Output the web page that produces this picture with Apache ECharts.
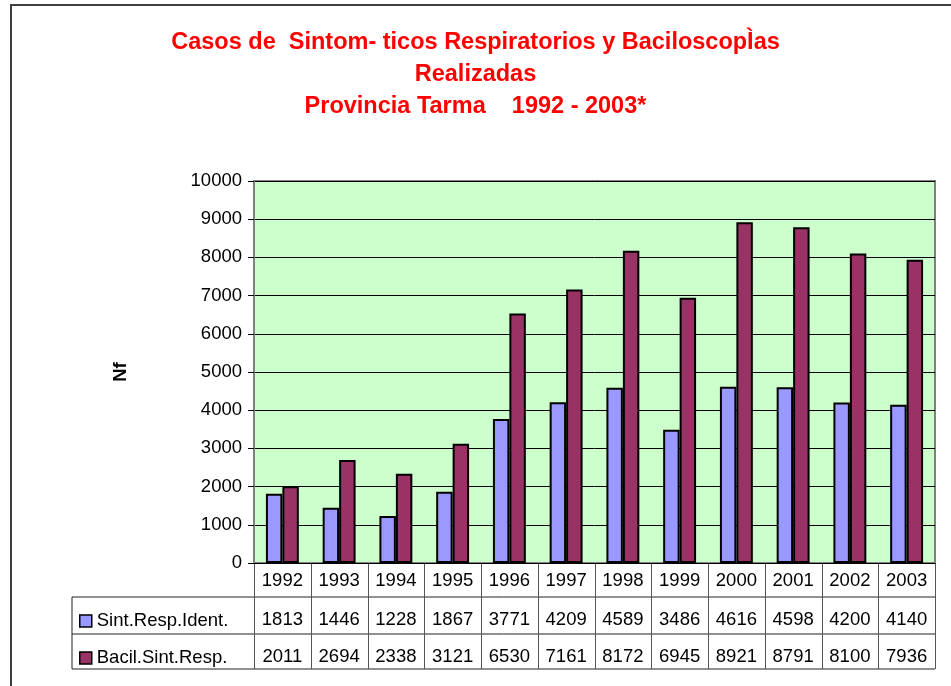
<!DOCTYPE html>
<html>
<head>
<meta charset="utf-8">
<script src="https://cdn.jsdelivr.net/npm/echarts@6/dist/echarts.min.js"></script>
<style>
  html, body { margin: 0; padding: 0; background: #fff; }
  #chart { width: 951px; height: 686px; }
</style>
</head>
<body>
<div id="chart"></div>
<script>
// datos de la tabla
const years = ['1992', '1993', '1994', '1995', '1996', '1997', '1998', '1999', '2000', '2001', '2002', '2003'];
const sintResp = [1813, 1446, 1228, 1867, 3771, 4209, 4589, 3486, 4616, 4598, 4200, 4140];
const bacilResp = [2011, 2694, 2338, 3121, 6530, 7161, 8172, 6945, 8921, 8791, 8100, 7936];
const seriesNames = ['Sint.Resp.Ident.', 'Bacil.Sint.Resp.'];

const chart = echarts.init(document.getElementById('chart'));

// geometría del área de trazado
const plotLeft = 254, plotRight = 935, plotBottom = 563;
const colW = (plotRight - plotLeft) / years.length;
const rowLines = [597, 634, 669];
const font = 'Arial, "Liberation Sans", sans-serif';
const fs = 18.5;

// líneas de la tabla de datos
const tableLines = [];
rowLines.forEach(y => {
  tableLines.push({ type: 'line', shape: { x1: 72, y1: y, x2: plotRight, y2: y },
    style: { stroke: '#222', lineWidth: 1 } });
});
tableLines.push({ type: 'line', shape: { x1: 72, y1: rowLines[0], x2: 72, y2: rowLines[2] },
  style: { stroke: '#222', lineWidth: 1 } });
for (let k = 0; k <= years.length; k++) {
  const x = Math.round(plotLeft + k * colW) + 0.5;
  tableLines.push({ type: 'line', shape: { x1: x, y1: plotBottom, x2: x, y2: rowLines[2] },
    style: { stroke: '#555', lineWidth: 1 } });
}

const rowAxis = (data, offset) => ({
  type: 'category',
  position: 'bottom',
  offset: offset,
  data: data.map(String),
  axisLine: { show: false },
  axisTick: { show: false },
  axisLabel: { fontSize: fs, color: '#000', margin: 9, fontFamily: font, interval: 0 }
});

chart.setOption({
  animation: false,
  backgroundColor: '#fff',
  title: {
    text: 'Casos de  Sintom- ticos Respiratorios y BaciloscopÌas\nRealizadas\nProvincia Tarma    1992 - 2003*',
    left: 'center',
    top: 22,
    textStyle: { color: '#ff0000', fontSize: 23.5, fontWeight: 'bold', lineHeight: 32, fontFamily: font }
  },
  legend: {
    orient: 'vertical',
    left: 74,
    top: 605,
    itemWidth: 12,
    itemHeight: 12,
    itemGap: 15,
    icon: 'rect',
    textStyle: { fontSize: fs, color: '#000', lineHeight: 22, fontFamily: font },
    itemStyle: { borderColor: '#000', borderWidth: 1.5 },
    data: seriesNames
  },
  grid: {
    left: plotLeft, right: 951 - plotRight, top: 181, bottom: 686 - plotBottom,
    show: true, backgroundColor: '#ccffcc', borderColor: '#808080', borderWidth: 2
  },
  xAxis: [
    {
      type: 'category',
      data: years,
      axisLine: { lineStyle: { color: '#000', width: 1 } },
      axisTick: { show: false },
      axisLabel: { fontSize: fs, color: '#000', margin: 8, fontFamily: font, interval: 0 }
    },
    rowAxis(sintResp, 38),
    rowAxis(bacilResp, 75)
  ],
  yAxis: {
    type: 'value',
    min: 0, max: 10000, interval: 1000,
    name: 'Nf',
    nameLocation: 'middle',
    nameGap: 124,
    nameRotate: 90,
    nameTextStyle: { fontSize: fs, fontWeight: 'bold', color: '#000', fontFamily: font },
    axisLine: { show: true, lineStyle: { color: '#808080', width: 2 } },
    axisTick: { show: true, length: 6, lineStyle: { color: '#000' } },
    axisLabel: { fontSize: fs, color: '#000', margin: 12, fontFamily: font, formatter: v => String(v) },
    splitLine: { lineStyle: { color: '#000', width: 1 } }
  },
  series: [
    {
      name: seriesNames[0], type: 'bar', data: sintResp,
      barGap: '0%', barCategoryGap: '42%',
      itemStyle: { color: '#9999ff', borderColor: '#000', borderWidth: 2 }
    },
    {
      name: seriesNames[1], type: 'bar', data: bacilResp,
      itemStyle: { color: '#993366', borderColor: '#000', borderWidth: 2 }
    }
  ],
  graphic: [
    { type: 'rect', shape: { x: 11, y: 5, width: 1000, height: 1000 },
      style: { fill: 'none', stroke: '#404040', lineWidth: 2 }, silent: true },
    ...tableLines
  ]
});
</script>
</body>
</html>
